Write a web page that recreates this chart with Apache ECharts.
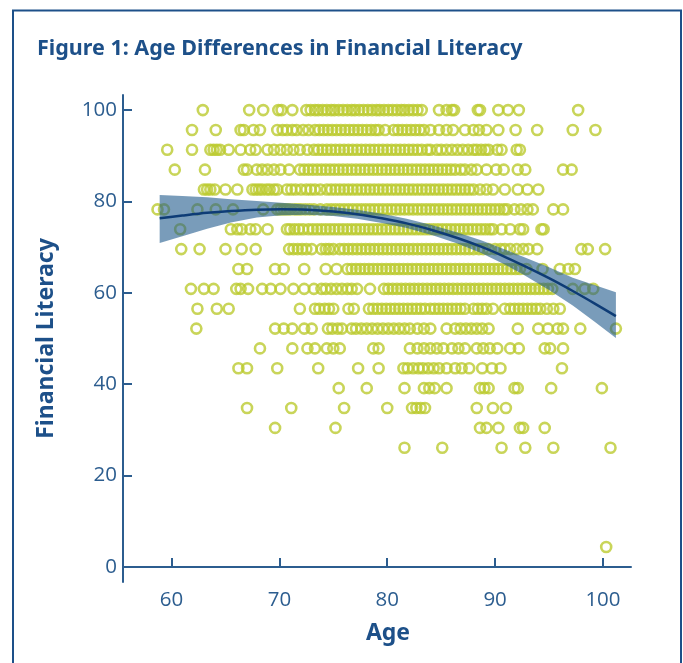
<!DOCTYPE html>
<html>
<head>
<meta charset="utf-8">
<title>Age Differences in Financial Literacy</title>
<script src="https://cdn.jsdelivr.net/npm/echarts@6/dist/echarts.min.js"></script>
<style>
  html, body { margin: 0; padding: 0; background: #fff; }
  #chart { width: 683px; height: 663px; }
</style>
</head>
<body>
<div id="chart"></div>
<script>
const s100 = [62.9, 67.2, 68.5, 69.9, 70.2, 71.2, 72.5, 72.9, 73.3, 73.6, 74.0, 74.4, 74.8, 75.1, 75.5, 75.9, 76.3, 76.7, 77.0, 77.4, 77.8, 78.2, 78.6, 79.0, 79.3, 79.7, 80.1, 80.5, 80.9, 81.3, 81.6, 82.0, 82.4, 82.8, 83.2, 84.8, 85.5, 86.0, 86.2, 88.4, 88.6, 90.3, 91.2, 92.2, 97.7];
const s95 = [61.9, 64.1, 66.4, 66.7, 67.6, 68.2, 69.8, 70.3, 70.7, 71.2, 71.6, 72.2, 72.7, 73.3, 73.7, 74.1, 74.5, 74.9, 75.3, 75.7, 76.1, 76.5, 76.9, 77.3, 77.7, 78.1, 78.5, 78.9, 79.2, 79.8, 80.6, 81.0, 81.4, 81.8, 82.2, 82.6, 83.0, 83.4, 84.0, 84.8, 85.5, 86.1, 87.2, 88.0, 88.5, 89.2, 90.3, 91.9, 93.9, 97.2, 99.3];
const s91 = [59.6, 61.9, 63.6, 63.9, 64.2, 64.5, 65.3, 66.4, 67.3, 67.8, 68.9, 69.5, 70.1, 70.7, 71.3, 71.9, 72.6, 73.2, 73.6, 74.0, 74.4, 74.8, 75.2, 75.6, 76.0, 76.4, 76.8, 77.2, 77.6, 78.0, 78.4, 78.8, 79.2, 79.6, 80.0, 80.4, 80.8, 81.2, 81.6, 82.0, 82.4, 82.8, 83.2, 83.7, 84.0, 84.6, 85.0, 85.5, 86.0, 86.5, 87.0, 87.5, 88.0, 88.3, 88.7, 89.1, 89.4, 90.2, 90.6, 92.0, 92.3];
const s87 = [60.3, 63.1, 66.7, 67.0, 67.9, 68.4, 68.9, 69.5, 70.1, 70.9, 71.9, 72.3, 72.7, 73.1, 73.5, 73.9, 74.3, 74.7, 75.1, 75.5, 75.9, 76.3, 76.7, 77.1, 77.5, 77.9, 78.3, 78.7, 79.1, 79.5, 79.9, 80.3, 80.7, 81.1, 81.5, 81.9, 82.3, 82.7, 83.1, 83.5, 83.9, 84.3, 84.7, 85.1, 85.5, 85.9, 86.3, 86.8, 87.2, 87.8, 88.3, 89.2, 90.1, 90.8, 92.1, 92.8, 96.3, 97.1];
const s83 = [63.0, 63.3, 63.6, 64.0, 65.0, 66.1, 67.5, 67.8, 68.1, 68.4, 68.8, 69.1, 69.5, 69.8, 70.7, 71.1, 71.5, 72.0, 72.5, 72.9, 73.3, 73.8, 74.4, 74.8, 75.2, 75.6, 76.0, 76.4, 76.8, 77.2, 77.6, 78.0, 78.4, 78.8, 79.2, 79.6, 80.0, 80.4, 80.8, 81.2, 81.6, 82.0, 82.4, 82.8, 83.2, 83.6, 84.0, 84.4, 84.8, 85.2, 85.6, 86.0, 86.4, 86.8, 87.2, 87.6, 88.0, 88.6, 89.2, 89.8, 90.9, 92.1, 93.0, 94.0];
const s78 = [58.7, 59.3, 62.4, 64.1, 65.7, 68.5, 69.8, 70.1, 70.4, 70.7, 71.0, 71.4, 71.7, 72.0, 72.4, 72.8, 73.2, 73.8, 74.4, 74.8, 75.2, 75.6, 76.0, 76.4, 76.8, 77.2, 77.6, 78.0, 78.4, 78.8, 79.2, 79.6, 80.0, 80.4, 80.8, 81.2, 81.6, 82.0, 82.4, 82.8, 83.2, 83.6, 84.0, 84.4, 84.8, 85.2, 85.6, 86.0, 86.4, 86.8, 87.2, 87.6, 88.0, 88.4, 88.8, 89.2, 89.6, 90.0, 90.4, 90.8, 91.1, 91.8, 92.4, 93.0, 93.5, 95.4, 96.3];
const s74 = [60.8, 65.5, 66.1, 66.5, 67.3, 67.8, 68.9, 70.7, 71.0, 71.4, 71.8, 72.2, 72.7, 73.1, 73.5, 73.9, 74.3, 74.7, 75.1, 75.5, 75.9, 76.3, 76.7, 77.1, 77.5, 77.9, 78.3, 78.7, 79.1, 79.5, 79.9, 80.3, 80.7, 81.1, 81.5, 81.9, 82.3, 82.7, 83.1, 83.5, 83.9, 84.3, 84.7, 85.1, 85.5, 85.9, 86.3, 86.7, 87.1, 87.5, 87.9, 88.3, 88.7, 89.1, 89.5, 89.8, 90.6, 91.4, 92.3, 92.6, 94.3, 94.5];
const s70 = [60.9, 62.6, 65.0, 66.5, 67.8, 70.9, 71.3, 71.7, 72.1, 72.5, 73.0, 73.9, 74.3, 74.6, 75.0, 75.6, 76.0, 76.4, 76.8, 77.2, 77.6, 78.0, 78.4, 78.8, 79.2, 79.6, 80.0, 80.4, 80.8, 81.2, 81.6, 82.0, 82.4, 82.8, 83.2, 83.6, 84.0, 84.4, 84.8, 85.2, 85.6, 86.0, 86.4, 86.8, 87.2, 87.6, 88.0, 88.5, 88.9, 89.4, 90.0, 90.5, 90.9, 91.4, 92.0, 92.6, 93.1, 93.9, 98.0, 98.6, 100.2];
const s65 = [66.2, 67.0, 69.6, 70.4, 72.3, 74.3, 75.3, 76.3, 76.7, 77.1, 77.5, 77.9, 78.3, 78.7, 79.1, 79.5, 79.9, 80.3, 80.7, 81.1, 81.5, 81.9, 82.3, 82.7, 83.1, 83.5, 83.9, 84.3, 84.7, 85.1, 85.5, 85.9, 86.3, 86.7, 87.1, 87.5, 87.9, 88.3, 88.7, 89.1, 89.5, 89.9, 90.3, 90.7, 91.1, 91.5, 91.9, 92.3, 92.9, 94.4, 96.0, 96.8, 97.4];
const s61 = [61.8, 63.0, 63.9, 66.0, 66.4, 67.1, 68.4, 69.2, 70.1, 71.3, 72.3, 73.2, 73.9, 74.3, 74.8, 75.3, 75.8, 76.3, 76.7, 77.2, 78.4, 79.7, 80.1, 80.5, 80.9, 81.3, 81.7, 82.1, 82.5, 82.9, 83.3, 83.7, 84.1, 84.5, 84.9, 85.3, 85.7, 86.1, 86.5, 86.9, 87.3, 87.7, 88.1, 88.5, 88.9, 89.3, 89.7, 90.1, 90.5, 90.9, 91.3, 91.7, 92.1, 92.5, 92.9, 93.3, 93.7, 94.1, 94.5, 94.9, 95.3, 97.2, 98.3, 99.1];
const s57 = [62.4, 64.2, 65.3, 71.9, 73.3, 73.7, 74.2, 74.6, 75.0, 76.4, 76.9, 78.3, 78.7, 79.1, 79.5, 79.9, 80.3, 80.7, 81.1, 81.5, 81.9, 82.3, 82.7, 83.1, 83.5, 84.0, 84.4, 84.8, 85.2, 85.6, 86.0, 86.4, 86.8, 87.2, 88.0, 88.4, 88.8, 89.2, 89.8, 90.9, 91.4, 91.8, 92.2, 92.6, 93.0, 93.4, 93.8, 94.2, 94.8, 95.4, 96.0];
const s52 = [62.3, 69.6, 70.4, 71.2, 72.3, 73.0, 74.5, 74.9, 75.4, 75.8, 76.7, 77.1, 77.6, 78.1, 78.6, 79.1, 79.6, 80.1, 80.6, 81.1, 81.6, 82.1, 82.8, 83.4, 84.0, 85.5, 86.3, 86.8, 87.3, 87.8, 88.3, 88.8, 89.4, 92.1, 94.0, 94.9, 95.8, 96.3, 97.9, 101.2];
const s48 = [68.2, 71.2, 72.6, 73.3, 74.4, 75.0, 75.6, 78.7, 79.2, 82.1, 82.8, 83.4, 84.0, 84.6, 85.2, 86.0, 86.6, 87.2, 88.3, 88.9, 89.5, 90.2, 91.4, 92.2, 94.6, 95.1, 96.3];
const s43 = [66.2, 67.0, 69.8, 73.6, 77.3, 79.2, 81.5, 81.9, 82.4, 82.9, 83.3, 83.8, 84.3, 84.8, 85.5, 86.3, 86.9, 87.6, 88.8, 89.7, 90.5, 96.2];
const s39 = [75.5, 78.1, 81.6, 83.4, 83.9, 84.4, 85.5, 88.6, 89.0, 89.4, 91.8, 92.1, 95.2, 99.9];
const s35 = [67.0, 71.1, 76.0, 80.0, 82.3, 82.7, 83.1, 83.5, 88.3, 89.8, 91.0];
const s30 = [69.6, 75.2, 88.6, 89.2, 90.3, 92.3, 92.6, 94.6];
const s26 = [81.6, 85.1, 90.6, 92.8, 95.4, 100.7];
const s4 = [100.3];

const rowScores = [100, 95.65, 91.3, 86.96, 82.61, 78.26, 73.91, 69.57, 65.22, 60.87, 56.52, 52.17, 47.83, 43.48, 39.13, 34.78, 30.43, 26.09, 4.35];
const rowAges = [s100, s95, s91, s87, s83, s78, s74, s70, s65, s61, s57, s52, s48, s43, s39, s35, s30, s26, s4];

// fitted curve and its confidence band
const fitAge = [58.9, 61, 63.3, 65.5, 67.9, 70.2, 72.6, 75, 77.2, 79.5, 81.8, 84.2, 86.5, 88.7, 90.8, 92.6, 95, 97.2, 99.2, 101.2];
const fitValue = [76.3, 76.9, 77.5, 77.9, 78.2, 78.3, 78.2, 77.8, 77.2, 76.3, 75.2, 73.7, 72.0, 70.1, 68.0, 66.0, 63.2, 60.4, 57.7, 54.9];
const bandUpper = [81.4, 81.2, 80.9, 80.5, 80.1, 79.7, 79.3, 78.8, 78.2, 77.3, 76.2, 74.8, 73.2, 71.5, 69.6, 67.9, 65.6, 63.3, 61.7, 60.1];
const bandLower = [70.9, 72.4, 74.0, 75.4, 76.5, 77.0, 77.1, 76.8, 76.2, 75.3, 74.2, 72.6, 70.8, 68.7, 66.3, 64.0, 60.6, 57.2, 53.7, 50.1];

const yTicks = [0, 20, 40, 60, 80, 100];
const xTicks = [60, 70, 80, 90, 100];

const BLUE = "#1d5089";
const AXIS = "#2c5d8f";
const DOT = "#bccb2f";

const points = [];
rowAges.forEach((ages, i) => {
  ages.forEach(a => points.push([a, rowScores[i]]));
});

const fitData = fitAge.map((a, i) => [a, fitValue[i]]);
const bandData = fitAge.map((a, i) => [a, bandLower[i], bandUpper[i]]);

const chart = echarts.init(document.getElementById("chart"));

chart.setOption({
  animation: false,
  backgroundColor: "#fff",
  title: {
    text: "Figure 1: Age Differences in Financial Literacy",
    left: 32,
    top: 33,
    textStyle: {
      color: BLUE,
      fontFamily: "Noto Sans",
      fontWeight: "bold",
      fontSize: 21.5
    }
  },
  graphic: [
    {
      type: "rect",
      shape: { x: 13, y: 10.5, width: 668, height: 670 },
      style: { fill: null, stroke: BLUE, lineWidth: 2 },
      silent: true
    }
  ],
  grid: { left: 123, right: 52, top: 95, bottom: 81 },
  xAxis: {
    type: "value",
    min: 55.5,
    max: 102.6,
    name: "Age",
    nameLocation: "middle",
    nameGap: 40,
    nameTextStyle: {
      color: BLUE, fontFamily: "Noto Sans", fontWeight: "bold", fontSize: 23,
      padding: [0, 0, 0, 22]
    },
    axisLine: { lineStyle: { color: AXIS, width: 2 } },
    axisTick: { inside: true, length: 9, customValues: xTicks, lineStyle: { color: AXIS, width: 2 } },
    axisLabel: { customValues: xTicks, color: AXIS, fontFamily: "Open Sans", fontSize: 20.5, margin: 8 },
    splitLine: { show: false }
  },
  yAxis: {
    type: "value",
    min: -3.3,
    max: 103.3,
    name: "Financial Literacy",
    nameLocation: "middle",
    nameGap: 65,
    nameTextStyle: {
      color: BLUE, fontFamily: "Noto Sans", fontWeight: "bold", fontSize: 23
    },
    axisLine: { show: true, lineStyle: { color: AXIS, width: 2 } },
    axisTick: { inside: true, length: 9, customValues: yTicks, lineStyle: { color: AXIS, width: 2 } },
    axisLabel: { customValues: yTicks, color: AXIS, fontFamily: "Open Sans", fontSize: 20.5, margin: 6 },
    splitLine: { show: false }
  },
  series: [
    {
      type: "scatter",
      data: points,
      symbol: "circle",
      symbolSize: 10,
      itemStyle: { color: "rgba(255,255,255,0)", borderColor: DOT, borderWidth: 2.6 },
      z: 1
    },
    {
      type: "custom",
      data: bandData,
      z: 2,
      renderItem: function (params, api) {
        if (params.dataIndex !== 0) return;
        const top = bandData.map(d => api.coord([d[0], d[2]]));
        const bottom = bandData.map(d => api.coord([d[0], d[1]])).reverse();
        return {
          type: "polygon",
          shape: { points: top.concat(bottom) },
          style: { fill: "rgba(31, 90, 140, 0.6)" }
        };
      },
      encode: { x: 0, y: [1, 2] },
      silent: true
    },
    {
      type: "line",
      data: fitData,
      smooth: 0.3,
      showSymbol: false,
      lineStyle: { color: "#0e3c76", width: 2.5 },
      z: 3
    }
  ]
});
</script>
</body>
</html>
